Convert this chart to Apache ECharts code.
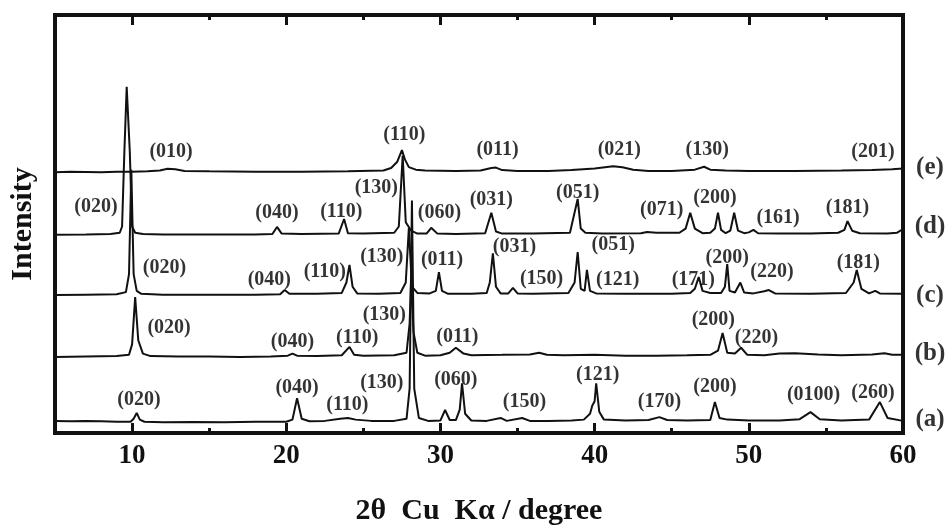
<!DOCTYPE html>
<html>
<head>
<meta charset="utf-8">
<script src="https://cdn.jsdelivr.net/npm/echarts@6/dist/echarts.min.js"></script>
<style>
html,body{margin:0;padding:0;background:#fff;}
#chart{width:951px;height:526px;}
</style>
</head>
<body>
<div id="chart"></div>
<script>
// ---- DATA ----
// x range (2theta, degree)
const xMin = 5, xMax = 60;
const majorTicks = [10, 20, 30, 40, 50];
const minorTicks = [15, 25, 35, 45, 55];
const tickLabels = [10, 20, 30, 40, 50, 60];

// vertical offsets (stacking) of each pattern, arbitrary intensity units
const offsets = [2.6, 18.2, 33.0, 47.4, 62.4];
const sampleTags = ['(a)', '(b)', '(c)', '(d)', '(e)'];
const tagX = 61.75;
const tagY = [3.1, 19.1, 33.0, 49.3, 63.4];

// patterns: [2theta, intensity above own baseline]
const traceA = [[5,0.3],[6,0.2],[7,0.3],[8,0.2],[9,0.1],[9.9,0.1],[10.1,0.8],[10.3,2.2],[10.5,0.6],[10.8,0.1],[12,0],[14,0.05],[16,0],[18,0.1],[20,0.1],[20.4,0.6],[20.7,5.7],[21.0,0.8],[21.5,0.2],[22.5,0.3],[23.5,0.8],[24.0,1.0],[24.5,0.6],[25.5,0.3],[27,0.3],[27.8,0.8],[28.0,8],[28.15,53],[28.3,8],[28.6,1.0],[29.2,0.3],[30.0,0.4],[30.3,2.9],[30.6,0.5],[31.0,0.5],[31.25,3],[31.4,9.3],[31.6,2],[32,0.4],[33,0.3],[33.9,1.0],[34.3,0.3],[35.3,1.0],[35.8,0.3],[37,0.3],[38.5,0.4],[39.3,0.6],[39.7,2],[39.85,4],[40.0,5],[40.1,9.3],[40.3,2.5],[40.6,0.6],[42,0.4],[43.5,0.5],[44.2,1.2],[44.7,0.5],[46,0.4],[47.5,0.5],[47.8,4.8],[48.1,1],[48.6,0.6],[50,0.4],[52,0.4],[53.3,0.7],[54.0,2.4],[54.6,0.7],[56,0.4],[57.8,0.6],[58.5,4.8],[59.0,1.0],[60,0.3]];
const traceB = [[5,0],[7,0.1],[9,0.2],[9.8,0.5],[10.0,3],[10.2,14.3],[10.4,4],[10.7,0.8],[11.2,0.2],[13,0.1],[15,0.1],[17,0],[19,0.1],[20.1,0.3],[20.4,0.8],[20.7,0.3],[22,0.2],[23.6,0.4],[24.1,2.4],[24.4,0.5],[25,0.3],[27,0.4],[27.8,1],[28.0,8],[28.1,19],[28.25,6],[28.5,1],[29,0.3],[30,0.4],[30.6,1.0],[31.0,2.2],[31.5,0.8],[32,0.4],[34,0.5],[35.8,0.6],[36.4,1.0],[36.9,0.5],[38,0.4],[40,0.5],[42,0.3],[44,0.3],[46,0.4],[47.5,0.5],[48.0,1.5],[48.3,5.7],[48.6,1],[49.1,0.8],[49.5,2.2],[49.9,0.5],[51,0.4],[52,0.8],[53,0.9],[54.5,0.6],[56,0.4],[58,0.6],[58.8,0.9],[59.3,0.5],[60,0.5]];
const traceC = [[5,0],[7,0.1],[9,0.2],[9.6,0.7],[9.8,5],[9.95,30],[10.1,5],[10.3,1],[10.6,0.3],[12,0.1],[14,0.1],[16,0.1],[18,0.1],[19.6,0.2],[19.9,1.2],[20.2,0.3],[22,0.3],[23.6,0.5],[23.9,3],[24.1,7.2],[24.3,2],[24.6,0.4],[26,0.3],[27.4,0.5],[27.75,3],[27.95,16],[28.15,2],[28.5,0.5],[29.3,0.4],[29.7,1],[29.9,5.5],[30.1,1],[30.5,0.3],[32,0.3],[33.0,0.5],[33.2,3],[33.4,10],[33.6,2],[33.9,0.4],[34.4,0.4],[34.7,1.7],[35.0,0.4],[36,0.3],[38.3,0.5],[38.7,3],[38.9,10.3],[39.1,1.5],[39.35,1],[39.5,6],[39.7,1],[40.1,0.4],[42,0.3],[45,0.3],[46.2,0.5],[46.5,1.5],[46.75,4.3],[47.0,1],[47.5,0.5],[48.2,0.5],[48.45,2],[48.6,7.4],[48.75,1],[49.1,0.6],[49.45,3],[49.7,0.6],[50.3,0.4],[51.0,0.9],[51.3,1.2],[51.7,0.4],[54,0.3],[56.3,0.5],[56.8,3],[57.0,6],[57.3,1.5],[57.8,0.4],[58.2,1],[58.5,0.4],[60,0.3]];
const traceD = [[5,0],[7,0.1],[8.6,0.2],[9.2,0.5],[9.35,2],[9.5,20],[9.65,35.4],[9.85,20],[10.0,2],[10.2,0.5],[10.7,0.2],[12,0.1],[15,0.1],[18,0.1],[19.1,0.2],[19.4,1.9],[19.7,0.3],[21,0.2],[23.4,0.3],[23.75,3.8],[24.0,0.4],[25,0.3],[27.0,0.5],[27.3,2],[27.55,19],[27.75,3],[28.1,1],[28.5,0.3],[29.1,0.3],[29.4,1.7],[29.8,0.3],[31,0.2],[32.9,0.4],[33.3,5.3],[33.6,0.8],[34,0.3],[36,0.3],[38.4,0.5],[38.9,8.6],[39.1,1.5],[39.4,0.5],[40.5,0.3],[43,0.4],[43.4,0.7],[44,0.5],[45.5,0.5],[45.9,1.5],[46.2,5.3],[46.5,1.5],[47,0.4],[47.5,0.5],[47.8,1.5],[48.0,5.3],[48.2,1.2],[48.5,0.4],[48.8,1],[49.05,5.3],[49.3,1],[49.7,0.4],[50.0,0.6],[50.3,1.2],[50.6,0.4],[52,0.3],[54,0.3],[55.8,0.5],[56.2,1.2],[56.4,3.3],[56.7,1],[57.2,0.4],[59,0.3],[59.6,0.5],[60,1.4]];
const traceE = [[5,0],[6,0.1],[8,0],[9,0.1],[10,0.1],[11,0.2],[11.8,0.4],[12.3,0.8],[12.8,0.7],[13.4,0.3],[15,0.2],[18,0.1],[21,0.1],[24,0.2],[26.3,0.4],[26.8,1],[27.2,2.5],[27.5,5.3],[27.7,3],[27.95,1.2],[28.4,0.6],[29,0.4],[31,0.3],[32.6,0.4],[33.3,1],[33.6,1.1],[34,0.5],[35,0.3],[37,0.3],[38.5,0.5],[40,0.9],[41.2,1.4],[41.8,1.2],[42.5,0.6],[43.5,0.3],[45,0.3],[46.5,0.6],[47.1,1.3],[47.5,0.6],[48.5,0.4],[50,0.3],[53,0.3],[56,0.4],[58,0.5],[59.3,0.7],[60,0.9]];

// Miller index annotations: [2theta, intensity, text]
const labelsA = [[10.45,7.9,'(020)'],[20.7,10.8,'(040)'],[23.96,6.7,'(110)'],[26.2,12.0,'(130)'],[31.0,12.7,'(060)'],[35.45,7.4,'(150)'],[40.2,13.9,'(121)'],[44.2,7.4,'(170)'],[47.8,11.0,'(200)'],[54.2,9.1,'(0100)'],[58.05,9.6,'(260)']];
const labelsB = [[12.4,25.1,'(020)'],[20.4,21.8,'(040)'],[24.6,22.7,'(110)'],[26.36,28.2,'(130)'],[31.1,23.0,'(011)'],[47.7,27.0,'(200)'],[50.5,22.7,'(220)']];
const labelsC = [[12.1,39.5,'(020)'],[18.9,36.6,'(040)'],[22.5,38.5,'(110)'],[26.2,42.1,'(130)'],[30.1,41.4,'(011)'],[34.8,44.5,'(031)'],[36.56,36.8,'(150)'],[41.2,45.0,'(051)'],[41.5,36.6,'(121)'],[46.4,36.6,'(171)'],[48.6,41.9,'(200)'],[51.5,38.5,'(220)'],[57.1,40.7,'(181)']];
const labelsD = [[7.66,54.1,'(020)'],[19.4,52.6,'(040)'],[23.57,52.9,'(110)'],[25.84,58.6,'(130)'],[29.94,52.6,'(060)'],[33.3,55.7,'(031)'],[38.9,57.4,'(051)'],[44.35,53.3,'(071)'],[47.8,56.2,'(200)'],[51.9,51.4,'(161)'],[56.4,53.8,'(181)']];
const labelsE = [[12.53,67.2,'(010)'],[27.66,71.3,'(110)'],[33.7,67.7,'(011)'],[41.6,67.7,'(021)'],[47.3,67.7,'(130)'],[58.05,67.2,'(201)']];

// ---- CHART ----
const traces = [traceA, traceB, traceC, traceD, traceE];
const allLabels = [].concat(labelsA, labelsB, labelsC, labelsD, labelsE);
const ink = '#111111';
const serif = 'Liberation Serif';

const chart = echarts.init(document.getElementById('chart'), null, {renderer: 'canvas'});

const gridBox = {left: 55, right: 48, top: 15, bottom: 93, outerBoundsMode: 'none', containLabel: false};

const lineSeries = traces.map((t, i) => ({
  type: 'line',
  xAxisIndex: 0, yAxisIndex: 0,
  data: t.map(p => [p[0], p[1] + offsets[i]]),
  showSymbol: false,
  symbol: 'none',
  lineStyle: {color: ink, width: 2},
  z: 3,
  silent: true
}));

const option = {
  animation: false,
  backgroundColor: '#fff',
  grid: [
    Object.assign({show: true, borderColor: ink, borderWidth: 4, backgroundColor: 'transparent'}, gridBox),
    Object.assign({show: false}, gridBox)
  ],
  xAxis: [
    {
      gridIndex: 0, type: 'value', position: 'bottom', min: xMin, max: xMax,
      axisLine: {show: false},
      splitLine: {show: false},
      axisTick: {show: true, inside: true, length: 10, customValues: majorTicks, lineStyle: {color: ink, width: 3}},
      axisLabel: {show: true, customValues: tickLabels, margin: 10, color: ink,
        fontFamily: serif, fontWeight: 'bold', fontSize: 27},
      name: '2\u03b8  Cu  K\u03b1 / degree',
      nameLocation: 'middle', nameGap: 63,
      nameTextStyle: {fontFamily: serif, fontWeight: 'bold', fontSize: 30, color: ink}
    },
    {
      gridIndex: 0, type: 'value', position: 'top', min: xMin, max: xMax,
      axisLine: {show: false}, splitLine: {show: false},
      axisTick: {show: true, inside: true, length: 10, customValues: majorTicks, lineStyle: {color: ink, width: 3}},
      axisLabel: {show: false}
    },
    {
      gridIndex: 1, type: 'value', position: 'bottom', min: xMin, max: xMax,
      axisLine: {show: false}, splitLine: {show: false},
      axisTick: {show: true, inside: true, length: 5, customValues: minorTicks, lineStyle: {color: ink, width: 3}},
      axisLabel: {show: false}
    },
    {
      gridIndex: 1, type: 'value', position: 'top', min: xMin, max: xMax,
      axisLine: {show: false}, splitLine: {show: false},
      axisTick: {show: true, inside: true, length: 5, customValues: minorTicks, lineStyle: {color: ink, width: 3}},
      axisLabel: {show: false}
    }
  ],
  yAxis: [
    {
      gridIndex: 0, type: 'value', min: 0, max: 100,
      axisLine: {show: false}, axisTick: {show: false}, axisLabel: {show: false}, splitLine: {show: false},
      name: 'Intensity', nameLocation: 'middle', nameGap: 17, nameRotate: 90,
      nameTextStyle: {fontFamily: serif, fontWeight: 'bold', fontSize: 30, color: ink}
    },
    {
      gridIndex: 1, type: 'value', min: 0, max: 100, show: false
    }
  ],
  series: lineSeries.concat([
    {
      type: 'scatter',
      xAxisIndex: 0, yAxisIndex: 0,
      symbol: 'circle',
      symbolSize: 1,
      silent: true,
      itemStyle: {color: 'rgba(0,0,0,0)'},
      data: allLabels.map(l => ({value: [l[0], l[1]], name: l[2]})),
      label: {
        show: true, position: 'inside', formatter: '{b}',
        fontFamily: serif, fontWeight: 'bold', fontSize: 20, color: '#000'
      },
      labelLayout: {hideOverlap: false},
      z: 5
    },
    {
      type: 'scatter',
      xAxisIndex: 0, yAxisIndex: 0,
      symbol: 'circle',
      symbolSize: 1,
      silent: true,
      clip: false,
      itemStyle: {color: 'rgba(0,0,0,0)'},
      data: sampleTags.map((t, i) => ({value: [tagX, tagY[i]], name: t})),
      label: {
        show: true, position: 'inside', formatter: '{b}',
        fontFamily: serif, fontWeight: 'bold', fontSize: 25, color: '#000'
      },
      z: 5
    }
  ])
};

chart.setOption(option);
</script>
</body>
</html>
